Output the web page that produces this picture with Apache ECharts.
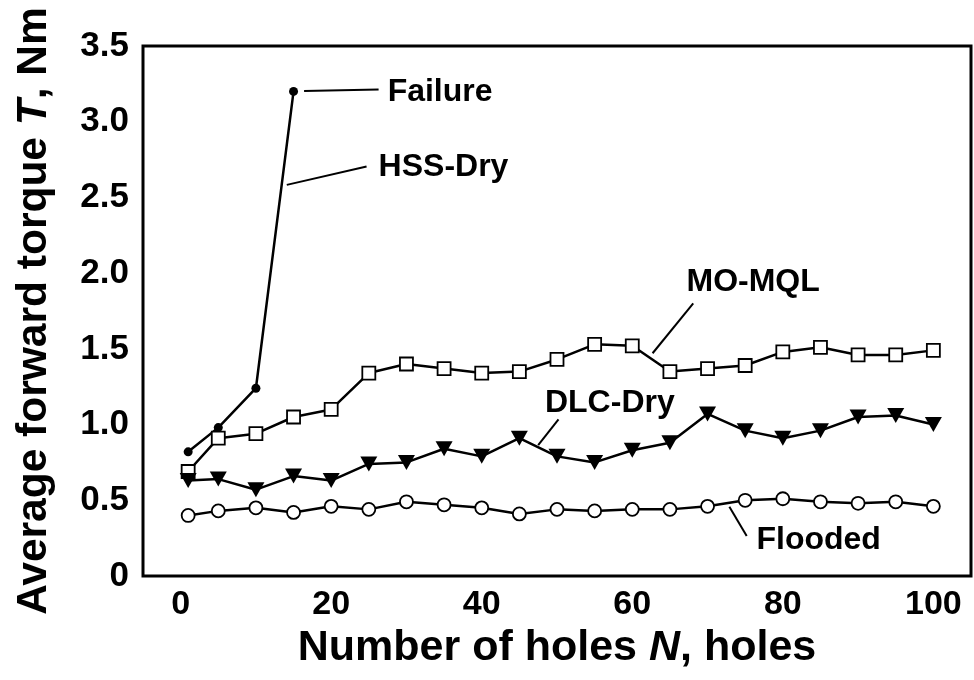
<!DOCTYPE html>
<html>
<head>
<meta charset="utf-8">
<script src="https://cdn.jsdelivr.net/npm/echarts@6/dist/echarts.min.js"></script>
<style>
html,body{margin:0;padding:0;background:#fff;}
#chart{width:974px;height:680px;}
</style>
</head>
<body>
<div id="chart"></div>
<script>
// ---- data ----
const holes = [1,5,10,15,20,25,30,35,40,45,50,55,60,65,70,75,80,85,90,95,100];
const flooded = [0.40,0.43,0.45,0.42,0.46,0.44,0.49,0.47,0.45,0.41,0.44,0.43,0.44,0.44,0.46,0.50,0.51,0.49,0.48,0.49,0.46];
const dlcDry = [0.63,0.64,0.57,0.66,0.63,0.74,0.75,0.84,0.79,0.91,0.79,0.75,0.83,0.88,1.07,0.96,0.91,0.96,1.05,1.06,1.00];
const moMql = [0.69,0.91,0.94,1.05,1.10,1.34,1.40,1.37,1.34,1.35,1.43,1.53,1.52,1.35,1.37,1.39,1.48,1.51,1.46,1.46,1.49];
const hssHoles = [1,5,10,15];
const hssDry = [0.82,0.98,1.24,3.20];
const xTicks = [0,20,40,60,80,100];
const yTicks = [0,0.5,1.0,1.5,2.0,2.5,3.0,3.5];
// annotation texts with anchor (data coords) and leader lines (data coords)
const annoText = ['Failure','HSS-Dry','MO-MQL','DLC-Dry','Flooded'];
const annoAnchor = [[27.5,3.197],[26.3,2.701],[67.2,1.942],[48.4,1.143],[76.5,0.238]];
const leaders = [
  [[16.4,3.203],[26.3,3.213]],
  [[14.1,2.583],[24.7,2.704]],
  [[62.7,1.471],[68.1,1.801]],
  [[47.5,0.865],[50.2,1.035]],
  [[72.9,0.458],[75.2,0.264]]
];

const FONT = '"Liberation Sans", Arial, sans-serif';
const zip = (xs, ys) => xs.map((x, i) => [x, ys[i]]);
const LW = 2.5;

const series = [];
leaders.forEach(seg => {
  series.push({
    type: 'line', data: seg, symbol: 'none', silent: true,
    lineStyle: {color: '#000', width: 2}, z: 1
  });
});
series.push({
  name: 'HSS-Dry', type: 'line', data: zip(hssHoles, hssDry),
  symbol: 'circle', symbolSize: 9,
  lineStyle: {color: '#000', width: LW},
  itemStyle: {color: '#000', borderColor: '#000', borderWidth: 0}, z: 3
});
series.push({
  name: 'MO-MQL', type: 'line', data: zip(holes, moMql),
  symbol: 'rect', symbolSize: 13,
  lineStyle: {color: '#000', width: LW},
  itemStyle: {color: '#fff', borderColor: '#000', borderWidth: 1.8}, z: 4
});
series.push({
  name: 'DLC-Dry', type: 'line', data: zip(holes, dlcDry),
  symbol: 'triangle', symbolRotate: 180, symbolSize: [17, 15],
  lineStyle: {color: '#000', width: LW},
  itemStyle: {color: '#000', borderColor: '#000', borderWidth: 0}, z: 4
});
series.push({
  name: 'Flooded', type: 'line', data: zip(holes, flooded),
  symbol: 'circle', symbolSize: 13,
  lineStyle: {color: '#000', width: LW},
  itemStyle: {color: '#fff', borderColor: '#000', borderWidth: 1.8}, z: 4
});
series.push({
  type: 'scatter', silent: true, symbolSize: 0,
  data: annoAnchor.map((p, i) => ({value: p, name: annoText[i]})),
  itemStyle: {opacity: 1},
  label: {
    show: true, position: 'right', distance: 0,
    formatter: p => p.name, opacity: 1, textBorderWidth: 0,
    color: '#000', fontFamily: FONT, fontWeight: 'bold', fontSize: 32
  }, z: 5
});

const chart = echarts.init(document.getElementById('chart'), null, {renderer: 'canvas'});
chart.setOption({
  animation: false,
  backgroundColor: '#fff',
  grid: {left: 143, top: 46, right: 3, bottom: 104, show: true,
         borderColor: '#000', borderWidth: 3, containLabel: false},
  xAxis: {
    type: 'value', min: -5, max: 105,
    name: 'Number of holes {i|N}, holes', nameLocation: 'middle', nameGap: 47,
    nameTextStyle: {color: '#000', fontFamily: FONT, fontWeight: 'bold', fontSize: 43,
      rich: {i: {fontStyle: 'italic', fontFamily: FONT, fontWeight: 'bold', fontSize: 43, color: '#000'}}},
    axisLine: {show: false}, axisTick: {show: false}, splitLine: {show: false},
    axisLabel: {customValues: xTicks, color: '#000', fontFamily: FONT, fontWeight: 'bold',
      fontSize: 34, margin: 12}
  },
  yAxis: {
    type: 'value', min: 0, max: 3.5,
    name: 'Average forward torque {i|T}, Nm', nameLocation: 'middle', nameGap: 87,
    nameTextStyle: {color: '#000', fontFamily: FONT, fontWeight: 'bold', fontSize: 42.5,
      rich: {i: {fontStyle: 'italic', fontFamily: FONT, fontWeight: 'bold', fontSize: 42.5, color: '#000'}}},
    axisLine: {show: false}, axisTick: {show: false}, splitLine: {show: false},
    axisLabel: {customValues: yTicks, color: '#000', fontFamily: FONT, fontWeight: 'bold',
      fontSize: 35, margin: 14,
      formatter: v => v === 0 ? '0' : v.toFixed(1)}
  },
  series: series
});
</script>
</body>
</html>
